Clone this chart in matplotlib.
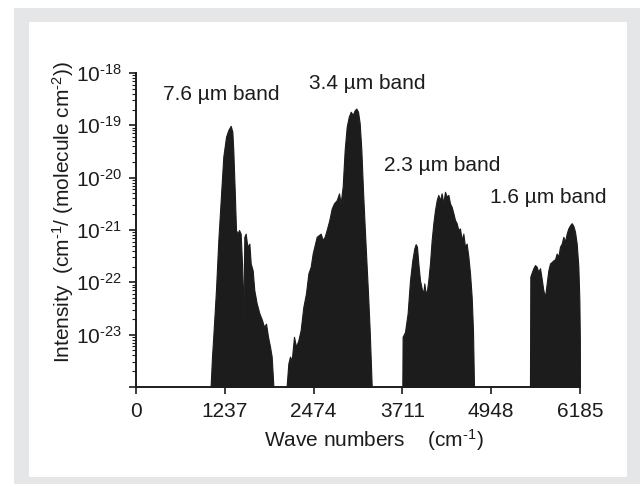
import numpy as np
import matplotlib.pyplot as plt
from matplotlib.patches import Rectangle
from matplotlib.ticker import FixedLocator, LogLocator, NullFormatter

plt.rcParams['font.family'] = ['Liberation Sans', 'DejaVu Sans']
plt.rcParams['mathtext.fontset'] = 'custom'
plt.rcParams['mathtext.rm'] = 'Liberation Sans'
plt.rcParams['mathtext.it'] = 'Liberation Sans:italic'
plt.rcParams['mathtext.bf'] = 'Liberation Sans:bold'
plt.rcParams['mathtext.default'] = 'rm'

# envelope of each band: wave number (cm-1) and log10 intensity
wn_76 = [1040, 1059, 1087, 1114, 1147, 1180, 1216, 1254, 1286, 1319, 1342, 1355,
         1375, 1393, 1416, 1435, 1458, 1477, 1495, 1509, 1528, 1551, 1579, 1598,
         1625, 1648, 1681, 1718, 1755, 1783, 1811, 1839, 1867, 1890, 1913]
lg_76 = [-23.97, -23.42, -22.79, -22.15, -21.19, -20.43, -19.60, -19.22, -19.09,
         -19.01, -19.12, -19.47, -20.24, -21.00, -21.07, -21.00, -21.07, -21.64,
         -22.66, -21.13, -21.07, -21.32, -21.26, -21.64, -21.77, -22.15, -22.40,
         -22.59, -22.72, -22.85, -22.79, -23.04, -23.23, -23.42, -23.97]

wn_34 = [2099, 2122, 2145, 2169, 2201, 2229, 2261, 2294, 2331, 2368, 2401, 2434,
         2461, 2489, 2517, 2545, 2573, 2601, 2628, 2656, 2693, 2726, 2758, 2796,
         2828, 2851, 2879, 2907, 2935, 2963, 2991, 3019, 3047, 3069, 3093, 3116,
         3139, 3162, 3186, 3209, 3232, 3255, 3283]
lg_34 = [-23.97, -23.55, -23.42, -23.49, -23.04, -23.23, -23.11, -22.91, -22.47,
         -22.21, -21.83, -21.70, -21.45, -21.29, -21.13, -21.10, -21.07, -21.19,
         -21.13, -21.00, -20.81, -20.59, -20.49, -20.43, -20.30, -20.49, -20.17,
         -19.47, -19.03, -18.84, -18.74, -18.80, -18.71, -18.68, -18.74, -18.96,
         -19.47, -20.24, -20.94, -21.58, -22.21, -22.91, -23.97]

wn_23 = [3710, 3714, 3747, 3784, 3817, 3849, 3877, 3896, 3914, 3933, 3956, 3980,
         4002, 4016, 4035, 4054, 4072, 4095, 4119, 4142, 4165, 4189, 4211, 4235,
         4258, 4281, 4304, 4328, 4351, 4374, 4398, 4421, 4444, 4467, 4490, 4513,
         4537, 4560, 4583, 4606, 4630, 4653, 4676, 4694, 4708]
lg_23 = [-23.97, -23.04, -22.95, -22.59, -21.96, -21.58, -21.35, -21.27, -21.32,
         -21.64, -21.96, -22.12, -22.21, -22.02, -22.21, -22.15, -21.96, -21.64,
         -21.19, -20.87, -20.62, -20.43, -20.33, -20.43, -20.30, -20.49, -20.27,
         -20.36, -20.33, -20.49, -20.56, -20.68, -20.81, -20.87, -21.00, -20.97,
         -21.19, -21.07, -21.32, -21.26, -21.51, -21.83, -22.28, -22.91, -23.97]

wn_16 = [5488, 5493, 5516, 5535, 5558, 5581, 5604, 5628, 5651, 5674, 5697, 5721,
         5744, 5767, 5791, 5813, 5837, 5860, 5883, 5906, 5930, 5953, 5976, 5999,
         6022, 6046, 6069, 6092, 6115, 6139, 6162, 6176, 6183, 6184]
lg_16 = [-23.97, -21.89, -21.80, -21.73, -21.67, -21.70, -21.80, -21.73, -21.93,
         -22.15, -22.28, -22.02, -21.77, -21.64, -21.61, -21.58, -21.56, -21.45,
         -21.51, -21.32, -21.26, -21.13, -21.22, -21.07, -20.97, -20.91, -20.87,
         -20.92, -21.03, -21.26, -21.70, -22.34, -23.11, -23.97]

band_names = ['7.6 µm band', '3.4 µm band', '2.3 µm band', '1.6 µm band']
label_wn = [376, 2410, 3455, 4931]
label_lg = [-18.42, -18.21, -19.76, -20.37]

x_ticks = [0, 1237, 2474, 3711, 4948, 6185]
y_exps = [-23, -22, -21, -20, -19, -18]

ink = '#1c1c1c'

fig = plt.figure(figsize=(6.4, 4.84), dpi=100)
fig.patches.append(Rectangle((0.0219, 0), 0.9781, 0.9835, transform=fig.transFigure,
                             facecolor='#e5e6e8', edgecolor='none', zorder=-2))
fig.patches.append(Rectangle((0.0453, 0.0145), 0.9344, 0.94, transform=fig.transFigure,
                             facecolor='white', edgecolor='none', zorder=-1))

ax = fig.add_axes([0.2125, 0.2004, 0.69375, 0.6488])
ax.patch.set_alpha(0)

for wn, lg in [(wn_76, lg_76), (wn_34, lg_34), (wn_23, lg_23), (wn_16, lg_16)]:
    ax.fill_between(wn, 1e-24, 10 ** np.array(lg), facecolor=ink, edgecolor=ink, lw=0.8)

for name, x, y in zip(band_names, label_wn, label_lg):
    ax.text(x, 10 ** y, name, fontsize=15, ha='left', va='center', color=ink, clip_on=False)

ax.set_yscale('log')
ax.set_xlim(0, 6185)
ax.set_ylim(1e-24, 1e-18)

ax.set_xticks(x_ticks)
ax.set_xticklabels([str(v) for v in x_ticks])
ax.yaxis.set_major_locator(FixedLocator([10.0 ** e for e in [-24] + y_exps]))
ax.set_yticklabels([''] + [r'$10^{\text{%d}}$' % e for e in y_exps])
ax.yaxis.set_minor_locator(LogLocator(base=10, subs=np.arange(2, 10), numticks=20))
ax.yaxis.set_minor_formatter(NullFormatter())

for s in ['top', 'right']:
    ax.spines[s].set_visible(False)
for s in ['left', 'bottom']:
    ax.spines[s].set_linewidth(1.4)
    ax.spines[s].set_color(ink)

ax.tick_params(axis='both', which='major', direction='out', length=5, width=1.2,
               color=ink, labelsize=15, labelcolor=ink)
ax.tick_params(axis='x', pad=6)
ax.tick_params(axis='y', pad=5)
ax.tick_params(axis='y', which='minor', direction='out', length=3, width=0.8, color=ink)

fig.text(374 / 640, 1 - 440 / 484, r'Wave numbers    (cm$^{\text{-1}}$)', fontsize=15,
         ha='center', va='center', color=ink)
fig.text(63 / 640, 1 - 212 / 484, r'Intensity  (cm$^{\text{-1}}$/ (molecule cm$^{\text{-2}}$))',
         fontsize=15, rotation=90, ha='center', va='center', color=ink)

fig.savefig('out.png', dpi=100)
